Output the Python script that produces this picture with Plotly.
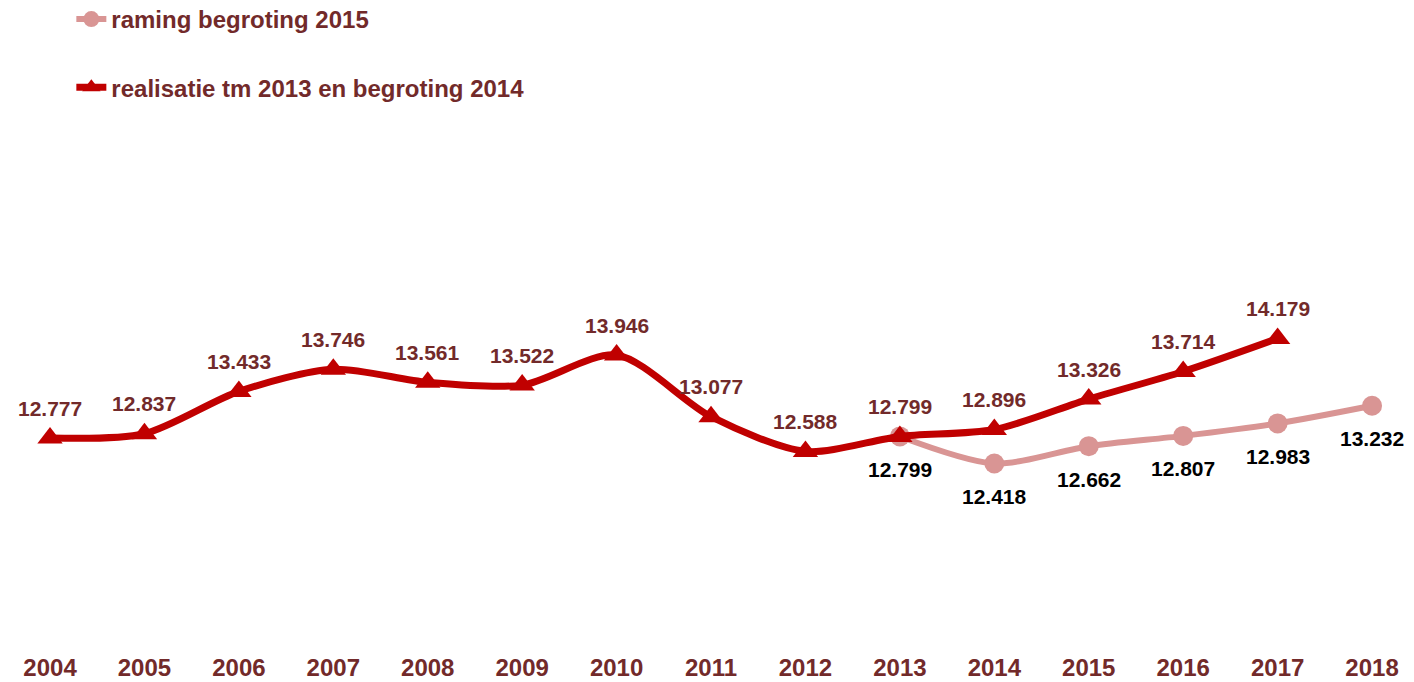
import plotly.graph_objects as go

years_real = list(range(2004, 2018))
real_values = [12.777, 12.837, 13.433, 13.746, 13.561, 13.522, 13.946, 13.077, 12.588, 12.799, 12.896, 13.326, 13.714, 14.179]
real_labels = ["12.777", "12.837", "13.433", "13.746", "13.561", "13.522", "13.946", "13.077", "12.588", "12.799", "12.896", "13.326", "13.714", "14.179"]

years_raming = list(range(2013, 2019))
raming_values = [12.799, 12.418, 12.662, 12.807, 12.983, 13.232]
raming_labels = ["12.799", "12.418", "12.662", "12.807", "12.983", "13.232"]

tick_years = list(range(2004, 2019))

DARK = "#C00000"
PINK = "#D99594"
TEXT = "#722A2A"
FONT = "Liberation Sans, Arial, sans-serif"

fig = go.Figure()
fig.add_trace(go.Scatter(
    x=years_raming, y=raming_values, mode="lines+markers",
    name="raming begroting 2015", legendgroup="a",
    line=dict(color=PINK, width=6, shape="spline", smoothing=0.8),
    marker=dict(symbol="circle", size=20, color=PINK),
))
fig.add_trace(go.Scatter(
    x=years_real, y=real_values, mode="lines+markers",
    name="realisatie tm 2013 en begroting 2014", legendgroup="b",
    line=dict(color=DARK, width=7, shape="spline", smoothing=0.8),
    marker=dict(symbol="triangle-up", size=22, color=DARK),
))

for x, y, t in zip(years_real, real_values, real_labels):
    fig.add_annotation(x=x, y=y, text=t, showarrow=False, yshift=30,
                       font=dict(family=FONT, size=21, color=TEXT, weight="bold"))
for x, y, t in zip(years_raming, raming_values, raming_labels):
    fig.add_annotation(x=x, y=y, text=t, showarrow=False, yshift=-33,
                       font=dict(family=FONT, size=21, color="#000000", weight="bold"))

fig.update_layout(
    width=1414, height=682,
    margin=dict(l=0, r=0, t=5, b=50, autoexpand=False),
    paper_bgcolor="white", plot_bgcolor="white",
    font=dict(family=FONT, size=22, color=TEXT),
    showlegend=True,
    legend=dict(x=0.0448, y=1.0255, xanchor="left", yanchor="top",
                traceorder="grouped", tracegroupgap=34,
                font=dict(family=FONT, size=24, color=TEXT, weight="bold"),
                bgcolor="rgba(0,0,0,0)"),
    xaxis=dict(range=[2003.555, 2018.529], tickvals=tick_years,
               ticktext=[str(y) for y in tick_years],
               showgrid=False, zeroline=False, showline=False,
               ticks="", ticklabelstandoff=11, automargin=False,
               tickfont=dict(family=FONT, size=24, color=TEXT, weight="bold")),
    yaxis=dict(range=[9.932, 18.763], visible=False, showgrid=False, zeroline=False),
)

fig.write_html("out.html")
